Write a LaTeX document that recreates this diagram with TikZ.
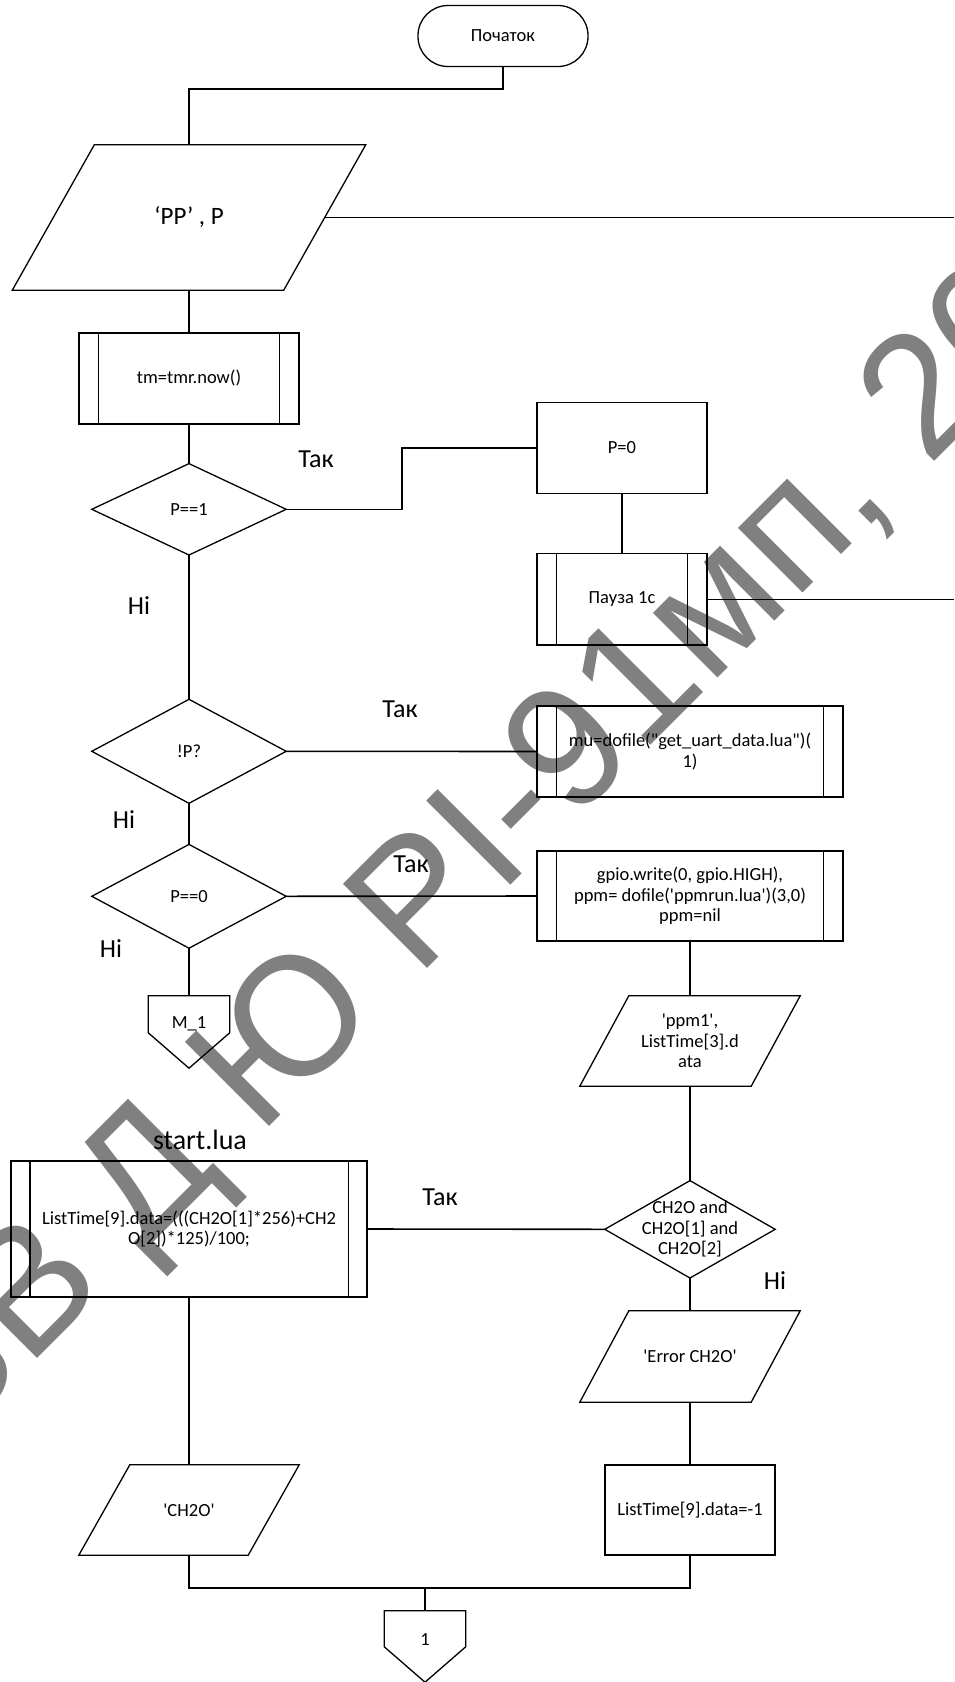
\documentclass[tikz,border=0pt]{standalone}
\usepackage{fontspec}
\usetikzlibrary{calc}
\newfontfamily\calfont{Carlito}
\newfontfamily\wmfont{Liberation Sans}
\definecolor{wmgray}{RGB}{128,128,128}
\newcommand\mksub[2]{\draw[shp] ($(#1.north west)+(#2,0)$) -- ($(#1.south west)+(#2,0)$);
  \draw[shp] ($(#1.north east)+(-#2,0)$) -- ($(#1.south east)+(-#2,0)$);}
\newcommand\mkpar[2]{\draw[shp] ($(#1.north west)+(#2,0)$) -- (#1.north east) -- ($(#1.south east)+(-#2,0)$) -- (#1.south west) -- cycle;}
\newcommand\mkdia[1]{\draw[shp] (#1.north) -- (#1.east) -- (#1.south) -- (#1.west) -- cycle;}
\newcommand\mkoff[2]{\draw[shp] (#1.north west) -- (#1.north east) -- ($(#1.north east)+(0,#2)$) -- (#1.south) -- ($(#1.north west)+(0,#2)$) -- cycle;}
\begin{document}
\begin{tikzpicture}[x=1pt,y=-1pt,
  shp/.style={line width=1.3pt},
  conn/.style={line width=1.6pt},
  txt/.style={font=\calfont\fontsize{18.5}{20.5}\selectfont, align=center, inner sep=0pt},
  procbox/.style={txt, draw, line width=1.3pt},
  frame/.style={txt, draw=none},
  lbl/.style={font=\calfont\fontsize{26}{30}\selectfont, inner sep=0pt},
  wm/.style={font=\wmfont\fontsize{173}{173}\selectfont, text=wmgray, inner sep=0pt}]
\useasboundingbox (0,0) rectangle (954,1682);
\fill[white] (0,0) rectangle (954,1682);
% watermark
\begin{scope}
\clip (0,0) rectangle (954,1682);
\node[wm, anchor=base west, rotate=45] (wmA) at (417.4,978.6) {РІ-91мп, 2021};
\node[wm, anchor=base east, rotate=45] (wmB) at (383.4,1012.6) {ЗВ Д Ю};
\end{scope}
% nodes
\node[procbox, rounded corners=30pt, minimum width=170pt, minimum height=61pt] (start) at (503,36) {Початок};
\node[frame, minimum width=353pt, minimum height=145pt, font=\calfont\fontsize{25}{28}\selectfont] (pp) at (189,217.5) {‘PP’ , P};
\mkpar{pp}{82}
\node[procbox, minimum width=220pt, minimum height=91pt] (tm) at (189,378.5) {tm=tmr.now()};
\mksub{tm}{20}
\node[frame, minimum width=194pt, minimum height=91pt] (d1) at (189,509.3) {P==1};
\mkdia{d1}
\node[procbox, minimum width=170pt, minimum height=91pt] (p0) at (622,448) {P=0};
\node[procbox, minimum width=170pt, minimum height=91.4pt] (pause) at (622,599.3) {Пауза 1с};
\mksub{pause}{20}
\node[frame, minimum width=194pt, minimum height=103.6pt] (d2) at (189,751.3) {!P?};
\mkdia{d2}
\node[procbox, minimum width=306pt, minimum height=91pt] (mu) at (690,751.5) {mu=dofile("get\_uart\_data.lua")(\\1)};
\mksub{mu}{20}
\node[frame, minimum width=194pt, minimum height=103.4pt] (d3) at (189,896.3) {P==0};
\mkdia{d3}
\node[procbox, minimum width=306pt, minimum height=90pt] (gpio) at (690,896) {gpio.write(0, gpio.HIGH),\\ppm= dofile('ppmrun.lua')(3,0)\\ppm=nil};
\mksub{gpio}{20}
\node[frame, minimum width=81pt, minimum height=72pt] (m1) at (189,1032) {};
\mkoff{m1}{37}
\node[txt] (m1t) at (189,1023.6) {M\_1};
\node[frame, minimum width=220pt, minimum height=90pt] (ppm) at (690,1041) {'ppm1',\\ListTime[3].d\\ata};
\mkpar{ppm}{49}
\node[frame, minimum width=170pt, minimum height=97pt] (ch) at (690,1229.3) {CH2O and\\CH2O[1] and\\CH2O[2]};
\mkdia{ch}
\node[procbox, minimum width=356pt, minimum height=136pt] (lt) at (189,1229) {ListTime[9].data=(((CH2O[1]*256)+CH2\\O[2])*125)/100;};
\mksub{lt}{19.5}
\node[frame, minimum width=220pt, minimum height=91pt] (err) at (690,1356.5) {'Error CH2O'};
\mkpar{err}{49}
\node[procbox, minimum width=170pt, minimum height=90pt] (lt1) at (690,1510) {ListTime[9].data=-1};
\node[frame, minimum width=220pt, minimum height=90pt] (ch2o) at (189,1510) {'CH2O'};
\mkpar{ch2o}{51}
\node[frame, minimum width=81pt, minimum height=71pt] (c1) at (425,1646.5) {};
\mkoff{c1}{36}
\node[txt] (c1t) at (425,1640) {1};
% labels
\node[lbl] (y1) at (316,459) {Так};
\node[lbl] (y2) at (400,709) {Так};
\node[lbl] (y3) at (411,864) {Так};
\node[lbl] (y4) at (440,1197) {Так};
\node[lbl] (n1) at (139,606) {Ні};
\node[lbl] (n2) at (124,820) {Ні};
\node[lbl] (n3) at (111,949) {Ні};
\node[lbl] (n4) at (775,1281) {Ні};
\node[lbl, font=\calfont\fontsize{28}{32}\selectfont] (sl) at (200,1140) {start.lua};
% connectors
\coordinate (e0) at (954,217.5);
\coordinate (e1) at (954,599.3);
\draw[conn] (start.south) -- ++(0,22) -| (pp.north);
\draw[conn] ($(pp.east)+(-41,0)$) -- (e0);
\draw[conn] (pp.south) -- (tm.north);
\draw[conn] (tm.south) -- (d1.north);
\draw[conn] (d1.east) -- ++(116,0) |- (p0.west);
\draw[conn] (p0.south) -- (pause.north);
\draw[conn] (pause.east) -- (e1);
\draw[conn] (d1.south) -- (d2.north);
\draw[conn] (d2.east) -- (mu.west);
\draw[conn] (d2.south) -- (d3.north);
\draw[conn] (d3.east) -- (gpio.west);
\draw[conn] (d3.south) -- (m1.north);
\draw[conn] (gpio.south) -- (ppm.north);
\draw[conn] (ppm.south) -- (ch.north);
\draw[conn] (ch.west) -- (lt.east);
\draw[conn] (ch.south) -- (err.north);
\draw[conn] (err.south) -- (lt1.north);
\draw[conn] (lt.south) -- (ch2o.north);
\draw[conn] (ch2o.south) -- ++(0,33) -| (lt1.south);
\draw[conn] (c1.north) -- ++(0,-23);
\end{tikzpicture}
\end{document}
